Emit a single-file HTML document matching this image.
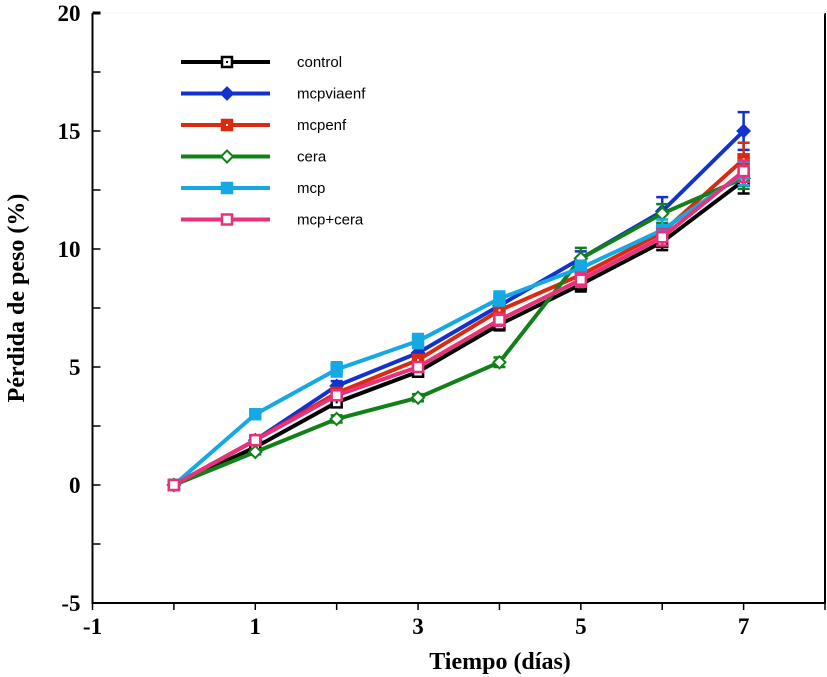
<!DOCTYPE html>
<html><head><meta charset="utf-8"><style>
html,body{margin:0;padding:0;background:#fff;width:827px;height:677px;overflow:hidden}
text{font-family:"Liberation Serif",serif;font-weight:bold}
</style></head><body>
<svg id="chart" width="827" height="677" xmlns="http://www.w3.org/2000/svg"></svg>
<script>
const days=[0,1,2,3,4,5,6,7];
const xTicks=[-1,1,3,5,7];
const yTicks=[-5,0,5,10,15,20];
const seriesNames=["control","mcpviaenf","mcpenf","cera","mcp","mcp+cera"];
const control=[0,1.6,3.5,4.8,6.8,8.5,10.3,12.9];
const mcpviaenf=[0,1.9,4.2,5.6,7.6,9.6,11.6,15.0];
const mcpenf=[0,1.9,3.9,5.3,7.4,8.9,10.7,13.8];
const cera=[0,1.4,2.8,3.7,5.2,9.6,11.5,13.0];
const mcp=[0,3.0,4.9,6.1,7.9,9.2,10.8,13.2];
const mcpcera=[0,1.9,3.8,5.0,7.0,8.7,10.5,13.3];
const errControl=[0,0.15,0.2,0.2,0.25,0.3,0.35,0.55];
const errMcpviaenf=[0,0.15,0.2,0.25,0.3,0.3,0.6,0.8];
const errMcpenf=[0,0.15,0.2,0.2,0.25,0.3,0.4,0.7];
const errCera=[0,0.1,0.15,0.15,0.2,0.45,0.4,0.45];
const errMcp=[0,0.15,0.3,0.3,0.3,0.3,0.45,0.5];
const errMcpcera=[0,0.15,0.2,0.2,0.25,0.3,0.35,0.45];

const svg=document.getElementById('chart');
const NS='http://www.w3.org/2000/svg';
const X0=92.5,X1=825,Y0=603,Y1=13;
const xs=v=>X0+(v+1)/9*(X1-X0);
const ys=v=>Y0-(v+5)/25*(Y0-Y1);
function mk(t,a,p){const e=document.createElementNS(NS,t);for(const k in a)e.setAttribute(k,a[k]);(p||svg).appendChild(e);return e;}

const axes=mk('g',{});


mk('path',{d:`M${X0} ${Y1}V${Y0}H${X1}V${Y1}`,fill:'none',stroke:'#000','stroke-width':2},axes);
mk('line',{x1:X0,y1:Y1,x2:X1,y2:Y1,stroke:'#f4f4f4','stroke-width':1},axes);
mk('line',{x1:X0,y1:Y1,x2:X0+8,y2:Y1,stroke:'#000','stroke-width':3},axes);
for(let v=-1;v<=8;v++){mk('line',{x1:xs(v),y1:Y0,x2:xs(v),y2:Y0+7,stroke:'#000','stroke-width':1.5},axes);}
for(let v=-5;v<=20;v+=2.5){mk('line',{x1:X0,y1:ys(v),x2:X0+8,y2:ys(v),stroke:'#000','stroke-width':1.5},axes);}
xTicks.forEach(v=>{const t=mk('text',{x:xs(v),y:Y0+31,'text-anchor':'middle','font-size':23},axes);t.textContent=v;
});
yTicks.forEach(v=>{const t=mk('text',{x:X0-12,y:ys(v)+8,'text-anchor':'end','font-size':23},axes);t.textContent=v;
});
const xt=mk('text',{x:500,y:669,'text-anchor':'middle','font-size':24});xt.textContent='Tiempo (días)';

const yt=mk('text',{x:0,y:0,'text-anchor':'middle','font-size':24,transform:`translate(24,${(Y0+Y1)/2-10}) rotate(-90)`});yt.textContent='Pérdida de peso (%)';


const cfg=[
 {v:control,e:errControl,c:'#000000',m:'sq',fill:'#fff',dot:true},
 {v:mcpviaenf,e:errMcpviaenf,c:'#1232d0',m:'dia',fill:'#1232d0'},
 {v:mcpenf,e:errMcpenf,c:'#dc2a10',m:'sq',fill:'#dc2a10',dot:true},
 {v:cera,e:errCera,c:'#128018',m:'dia',fill:'#fff'},
 {v:mcp,e:errMcp,c:'#14a8e4',m:'sq',fill:'#14a8e4'},
 {v:mcpcera,e:errMcpcera,c:'#e8307c',m:'sq',fill:'#fff'}
];
function marker(g,x,y,s){
 if(s.m==='sq'){mk('rect',{x:x-5,y:y-5,width:10,height:10,fill:s.fill,stroke:s.c,'stroke-width':2.5},g);
  if(s.dot)mk('rect',{x:x-1,y:y-1,width:2,height:2,fill:s.m==='sq'&&s.fill==='#fff'?'#000':'#fff'},g);}
 else mk('path',{d:`M${x} ${y-6}L${x+6} ${y}L${x} ${y+6}L${x-6} ${y}Z`,fill:s.fill,stroke:s.c,'stroke-width':2},g);
}
cfg.forEach((s,i)=>{
 const g=mk('g',{});
 
 
 days.forEach((d,j)=>{if(s.e[j]>0){const x=xs(d),a=ys(s.v[j]+s.e[j]),b=ys(s.v[j]-s.e[j]);
  mk('path',{d:`M${x} ${a}V${b}M${x-6} ${a}H${x+6}M${x-6} ${b}H${x+6}`,stroke:s.c,'stroke-width':2.5,fill:'none'},g);}});
 mk('polyline',{points:days.map((d,j)=>xs(d)+','+ys(s.v[j])).join(' '),fill:'none',stroke:s.c,'stroke-width':4,'stroke-linejoin':'round'},g);
 days.forEach((d,j)=>marker(g,xs(d),ys(s.v[j]),s));
});

const lg=mk('g',{});


cfg.forEach((s,i)=>{
 const y=62+i*31.5;
 const e=mk('g',{},lg);
 
 
 mk('line',{x1:181,y1:y,x2:270,y2:y,stroke:s.c,'stroke-width':4},e);
 marker(e,227,y,s);
 const t=mk('text',{x:297,y:y+5,'font-size':15,style:'font-family:"Liberation Sans",sans-serif;font-weight:normal'},e);
 t.textContent=seriesNames[i];
});
</script>
</body></html>
